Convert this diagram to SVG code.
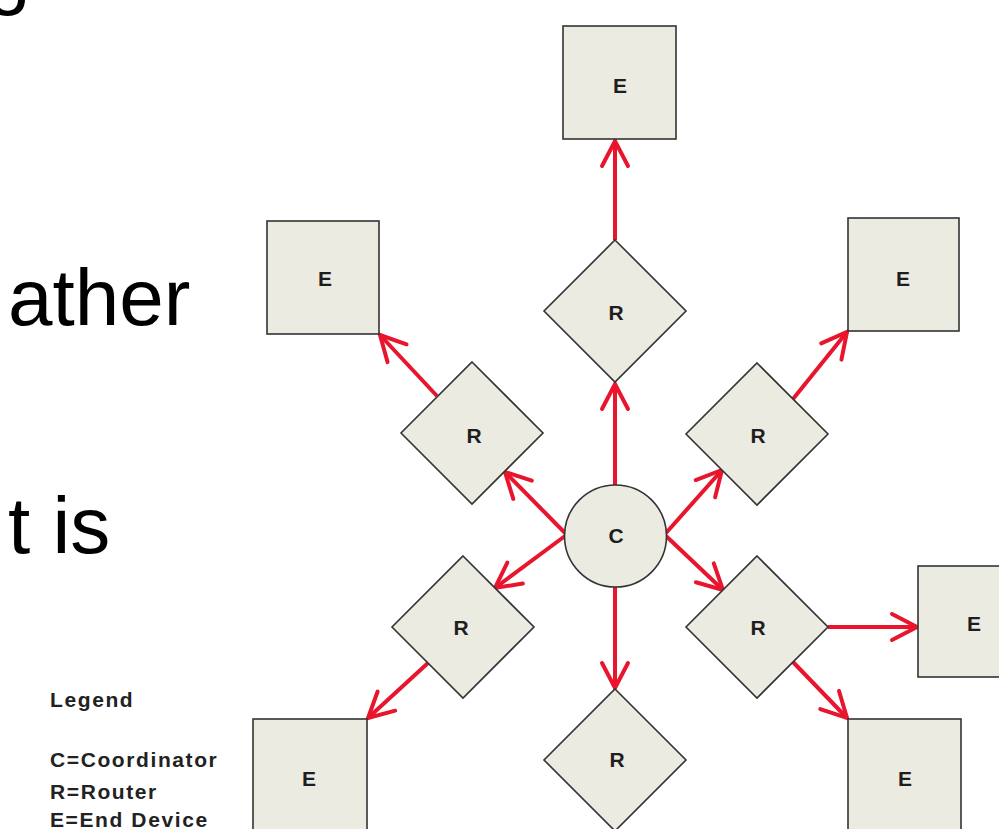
<svg xmlns="http://www.w3.org/2000/svg" width="999" height="829" viewBox="0 0 999 829">
  <defs>
    <style>
      .slide { font-family: "Liberation Sans", Arial, sans-serif; font-size: 80px; fill: #000; }
      .node { fill: #ecebe2; stroke: #333; stroke-width: 1.6; }
      .lbl { font-family: "Liberation Sans", Arial, sans-serif; font-weight: bold; font-size: 21px; fill: #1e1e1e; text-anchor: middle; }
      .link { stroke: #e8152d; stroke-width: 4; fill: none; marker-end: url(#open); }
      .legend { font-family: "Liberation Sans", Arial, sans-serif; font-weight: bold; font-size: 21px; letter-spacing: 1.6px; fill: #222; }
    </style>
    <marker id="open" markerUnits="userSpaceOnUse" markerWidth="40" markerHeight="40" viewBox="-30 -20 40 40" refX="0" refY="0" orient="auto" overflow="visible">
      <path d="M -25 -13 L 0 0 L -25 13" fill="none" stroke="#e8152d" stroke-width="4" stroke-linejoin="miter" stroke-linecap="round"/>
    </marker>
  </defs>

  <rect width="999" height="829" fill="#fff"/>

  <!-- slide body text, partly covered -->
  <text class="slide" x="-14" y="-1">g</text>
  <text class="slide" x="8" y="325">ather</text>
  <text class="slide" x="8" y="553">t is</text>

  <!-- legend -->
  <g id="legend" class="legend">
    <text x="50" y="707">Legend</text>
    <text x="50" y="767">C=Coordinator</text>
    <text x="50" y="799">R=Router</text>
    <text x="50" y="827">E=End Device</text>
  </g>

  <!-- connectors -->
  <g id="connectors">
    <line class="link" x1="615" y1="485" x2="615" y2="384"/>
    <line class="link" x1="615" y1="240" x2="615" y2="141"/>
    <line class="link" x1="565" y1="533" x2="505" y2="472"/>
    <line class="link" x1="437" y1="396" x2="380" y2="335"/>
    <line class="link" x1="565" y1="536" x2="495" y2="588"/>
    <line class="link" x1="428" y1="663" x2="368" y2="718"/>
    <line class="link" x1="615" y1="587" x2="615" y2="688"/>
    <line class="link" x1="666" y1="533" x2="722" y2="470"/>
    <line class="link" x1="793" y1="399" x2="847" y2="332"/>
    <line class="link" x1="666" y1="536" x2="723" y2="590"/>
    <line class="link" x1="828" y1="627" x2="917" y2="627"/>
    <line class="link" x1="793" y1="662" x2="847" y2="718"/>
  </g>

  <!-- coordinator -->
  <g id="coordinator">
    <circle class="node" cx="615.5" cy="536" r="51"/>
    <text class="lbl" x="616" y="543">C</text>
  </g>

  <!-- routers -->
  <g id="router-top">
    <polygon class="node" points="615,240 686,311 615,382 544,311"/>
    <text class="lbl" x="616" y="320">R</text>
  </g>
  <g id="router-upper-left">
    <polygon class="node" points="472,362 543,433 472,504 401,433"/>
    <text class="lbl" x="474" y="443">R</text>
  </g>
  <g id="router-lower-left">
    <polygon class="node" points="463,556 534,627 463,698 392,627"/>
    <text class="lbl" x="461" y="635">R</text>
  </g>
  <g id="router-upper-right">
    <polygon class="node" points="757,363 828,434 757,505 686,434"/>
    <text class="lbl" x="758" y="443">R</text>
  </g>
  <g id="router-lower-right">
    <polygon class="node" points="757,556 828,627 757,698 686,627"/>
    <text class="lbl" x="758" y="635">R</text>
  </g>
  <g id="router-bottom">
    <polygon class="node" points="615,689 686,760 615,831 544,760"/>
    <text class="lbl" x="617" y="767">R</text>
  </g>

  <!-- end devices -->
  <g id="end-top">
    <rect class="node" x="563" y="26" width="113" height="113"/>
    <text class="lbl" x="620" y="93">E</text>
  </g>
  <g id="end-top-left">
    <rect class="node" x="267" y="221" width="112" height="113"/>
    <text class="lbl" x="325" y="286">E</text>
  </g>
  <g id="end-top-right">
    <rect class="node" x="848" y="218" width="111" height="113"/>
    <text class="lbl" x="903" y="286">E</text>
  </g>
  <g id="end-right">
    <rect class="node" x="918" y="566" width="113" height="111"/>
    <text class="lbl" x="974" y="631">E</text>
  </g>
  <g id="end-bottom-right">
    <rect class="node" x="848" y="719" width="113" height="113"/>
    <text class="lbl" x="905" y="786">E</text>
  </g>
  <g id="end-bottom-left">
    <rect class="node" x="253" y="719" width="114" height="113"/>
    <text class="lbl" x="309" y="786">E</text>
  </g>
</svg>
